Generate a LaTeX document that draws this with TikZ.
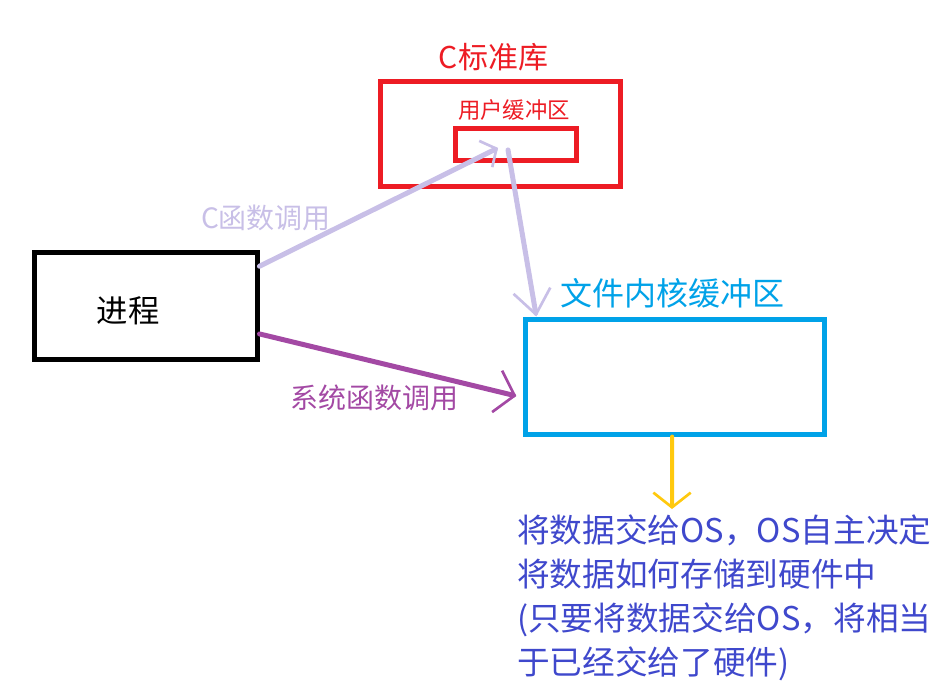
\documentclass[tikz,border=0pt]{standalone}
\usepackage{fontspec}
\newfontfamily\cjk{Noto Sans CJK SC}
\usetikzlibrary{arrows.meta}
\definecolor{libred}{RGB}{237,28,36}
\definecolor{kernblue}{RGB}{0,162,232}
\definecolor{lavender}{RGB}{200,191,231}
\definecolor{syspurple}{RGB}{163,73,164}
\definecolor{osyellow}{RGB}{255,201,14}
\definecolor{noteblue}{RGB}{63,72,204}

\begin{document}
\begin{tikzpicture}[x=0.75pt,y=-0.75pt,
  box/.style={draw,line width=3.75pt,inner sep=0pt},
  lbl/.style={font=\cjk\fontsize{#1}{#1}\selectfont,inner sep=0pt},
  hand/.style 2 args={-{Straight Barb[length=#1,width=#2,line width=2pt]},line width=3.75pt,line cap=round}]
\useasboundingbox (0,0) rectangle (943,697);

\node[box,minimum width=167.25pt,minimum height=80.25pt] (proc) at (145.5,305.5) {};
\node[lbl=23.5] (procname) at (128,311) {进程};

\node[box,draw=libred,minimum width=180pt,minimum height=78.4pt] (lib) at (500,134.25) {};
\node[lbl=22.5,text=libred] (libname) at (493.5,57.5) {C标准库};
\node[box,draw=libred,minimum width=91.1pt,minimum height=23.9pt] (buf) at (515.75,144.6) {};
\node[lbl=16.8,text=libred] (bufname) at (514,110) {用户缓冲区};

\node[box,draw=kernblue,minimum width=223.9pt,minimum height=86.25pt] (kern) at (674.75,376.5) {};
\node[lbl=24,text=kernblue] (kernname) at (672,293) {文件内核缓冲区};

\node[lbl=21,text=lavender] (ccall) at (266,217.5) {C函数调用};
\node[lbl=21,text=syspurple] (syscall) at (374,398) {系统函数调用};

\node[anchor=north west,inner sep=0pt,align=left,text=noteblue,
  font=\cjk\fontsize{24.5}{33}\selectfont] (note) at (517,514)
  {将数据交给OS，OS自主决定\\将数据如何存储到硬件中\\(只要将数据交给OS，将相当\\于已经交给了硬件)};
\coordinate (give) at (672,509);

\path[hand={9pt}{22pt},lavender] (proc.19.5) edge ([xshift=-13.3pt,yshift=-2.5pt]buf.center);
\path[hand={18pt}{28pt},lavender] ([xshift=-5.8pt,yshift=-4pt]buf.center) edge ([xshift=10pt]kern.north west);
\path[hand={13.5pt}{32pt},syspurple] (proc.-14.8) edge ([xshift=-5pt,yshift=-14.6pt]kern.west);
\path[hand={11pt}{28pt},osyellow,line width=3pt] ([xshift=-2pt]kern.south) edge (give);
\end{tikzpicture}
\end{document}
